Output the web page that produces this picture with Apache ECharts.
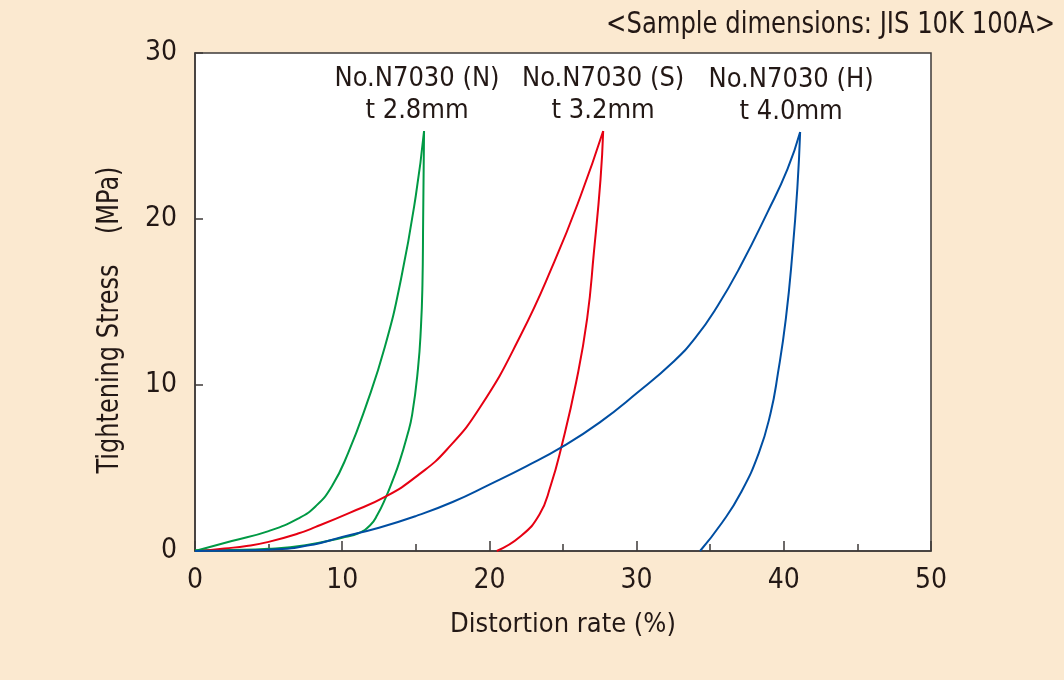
<!DOCTYPE html>
<html>
<head>
<meta charset="utf-8">
<script src="https://cdn.jsdelivr.net/npm/echarts@6/dist/echarts.min.js"></script>
<style>
html,body{margin:0;padding:0;background:#fbe9d0;}
#chart{width:1064px;height:680px;}
</style>
</head>
<body>
<div id="chart"></div>
<script>
// ---- data ----
const xTicks = [0, 10, 20, 30, 40, 50];
const yTicks = [0, 10, 20, 30];
const sampleNames = ['No.N7030 (N)', 'No.N7030 (S)', 'No.N7030 (H)'];
const thicknesses = ['t 2.8mm', 't 3.2mm', 't 4.0mm'];

const nLoad = [[0,0],[2.5,0.6],[5,1.2],[7.0,1.95],[8.2,2.7],[9.3,3.9],[10.4,5.9],[11.6,8.7],[12.9,12.3],[14.0,16.4],[15.0,21.4],[15.56,25.3]];
const nUnload = [[15.56,25.3],[15.5,20.0],[15.45,16.0],[15.35,13.5],[15.15,11.0],[14.75,8.2],[14.4,6.9],[13.9,5.4],[13.45,4.3],[12.95,3.2],[12.4,2.2],[11.9,1.55],[11.1,1.07],[10.0,0.8],[7.5,0.35],[5.0,0.13],[2.5,0.06],[0,0.04]];

const sLoad = [[0.45,0],[2,0.15],[3.5,0.3],[5.0,0.55],[7.0,1.05],[8.2,1.45],[10.5,2.3],[13.0,3.3],[15.2,4.6],[17.1,6.1],[19.4,8.7],[22.1,12.95],[24.4,17.4],[26.2,21.4],[27.73,25.3]];
const sUnload = [[27.73,25.3],[27.55,22.4],[27.1,18.0],[26.64,14.0],[25.9,10.2],[24.9,6.3],[24.15,3.9],[23.4,2.2],[22.1,0.87],[20.5,0]];

const hLoad = [[0,0],[3,0.03],[5.5,0.1],[8.0,0.38],[10.0,0.85],[12.5,1.4],[15.0,2.1],[17.5,2.95],[20.0,4.0],[22.5,5.1],[25.0,6.3],[27.5,7.75],[30.0,9.5],[32.5,11.4],[34.0,12.85],[35.5,14.76],[37.07,17.18],[38.89,20.4],[40.25,23.0],[41.11,25.24]];
const hUnload = [[41.11,25.24],[40.93,22.0],[40.59,18.0],[40.14,14.0],[39.6,10.7],[39.1,8.3],[38.3,5.9],[37.07,3.49],[35.8,1.7],[34.31,0]];

// ---- chart ----
const ink = '#231815';
const narrow = '"DejaVu Sans Condensed","Liberation Sans Narrow","Liberation Sans",sans-serif';
const colors = ['#009944', '#e60012', '#004ea2'];
const loads = [nLoad, sLoad, hLoad];
const unloads = [nUnload, sUnload, hUnload];
const labelOffsets = [[-7, 0], [0, 0], [-9, 0]];

const series = [];
for (let i = 0; i < 3; i++) {
  const peak = loads[i][loads[i].length - 1];
  series.push({
    type: 'line', data: unloads[i], showSymbol: false, smooth: 0.5,
    lineStyle: {color: colors[i], width: 2}, z: 2 + i
  });
  series.push({
    type: 'line', data: loads[i], showSymbol: false, smooth: 0.5,
    lineStyle: {color: colors[i], width: 2}, z: 2 + i,
    markPoint: {
      symbol: 'circle', symbolSize: 0, silent: true,
      data: [{coord: peak}],
      label: {
        show: true, position: 'top', distance: 4, offset: labelOffsets[i],
        formatter: sampleNames[i] + '\n' + thicknesses[i],
        color: ink, fontFamily: narrow, fontSize: 27, lineHeight: 32, align: 'center'
      }
    }
  });
}

const chart = echarts.init(document.getElementById('chart'), null, {renderer: 'canvas'});
chart.setOption({
  animation: false,
  backgroundColor: '#fbe9d0',
  grid: {left: 195, right: 133, top: 53, bottom: 129, show: true, backgroundColor: '#ffffff', borderColor: '#3e3a39', borderWidth: 1.5},
  graphic: [
    {type: 'text', x: 1055, y: 25, scaleX: 0.9, style: {text: '<Sample dimensions: JIS 10K 100A>', fill: ink, font: '30px ' + narrow, textAlign: 'right', textVerticalAlign: 'middle'}},
    {type: 'text', x: 110, y: 320, rotation: Math.PI / 2, scaleX: 0.89, style: {text: 'Tightening Stress    (MPa)', fill: ink, font: '30px ' + narrow, textAlign: 'center', textVerticalAlign: 'middle'}}
  ],
  xAxis: {
    type: 'value', min: xTicks[0], max: xTicks[xTicks.length - 1], interval: 10,
    name: 'Distortion rate (%)', nameLocation: 'middle', nameGap: 60,
    nameTextStyle: {color: ink, fontFamily: narrow, fontSize: 27},
    axisLine: {lineStyle: {color: '#3e3a39', width: 1.5}},
    axisTick: {inside: true, length: 10, lineStyle: {color: '#3e3a39', width: 1.5}},
    minorTick: {show: true, splitNumber: 2, length: 7, lineStyle: {color: '#3e3a39', width: 1.5}},
    splitLine: {show: false},
    axisLabel: {color: ink, fontFamily: narrow, fontSize: 28, margin: 16}
  },
  yAxis: {
    type: 'value', min: yTicks[0], max: yTicks[yTicks.length - 1], interval: 10,
    axisLine: {show: true, lineStyle: {color: '#3e3a39', width: 1.5}},
    axisTick: {show: true, inside: true, length: 8, lineStyle: {color: '#3e3a39', width: 1.5}},
    splitLine: {show: false},
    axisLabel: {color: ink, fontFamily: narrow, fontSize: 28, margin: 18}
  },
  series: series
});
</script>
</body>
</html>
